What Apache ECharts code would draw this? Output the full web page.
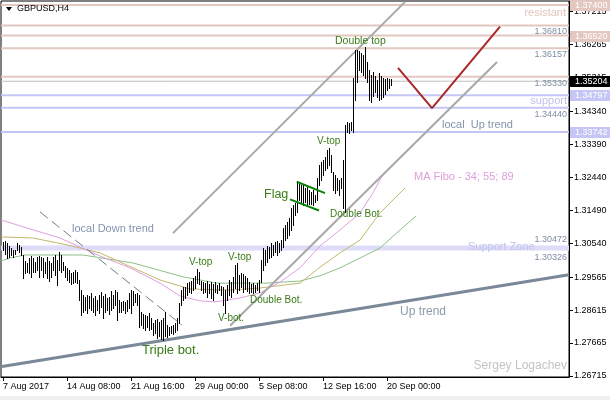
<!DOCTYPE html>
<html><head><meta charset="utf-8">
<script src="https://cdn.jsdelivr.net/npm/echarts@6/dist/echarts.min.js"></script>
<style>html,body{margin:0;padding:0;background:#fff}#c{width:610px;height:400px}</style>
</head><body><div id="c"></div>
<script>
// ---- data ----
const dateLabels = ['7 Aug 2017','14 Aug 08:00','21 Aug 16:00','29 Aug 00:00','5 Sep 08:00','12 Sep 16:00','20 Sep 00:00'];
const dateLabelBars = [0,32,64,96,128,160,192];
const priceTicks = [1.37215,1.36265,1.35315,1.34340,1.33390,1.32440,1.31490,1.30540,1.29565,1.28615,1.27665,1.26715];

const highs = [1.3057,1.3060,1.3055,1.3046,1.3040,1.3034,1.3034,1.3055,1.3049,1.3043,
1.3020,1.3003,1.2997,1.3011,1.3017,1.3011,1.3000,1.3014,1.3017,1.3014,
1.3011,1.3000,1.3014,1.3003,1.2997,1.3014,1.3020,1.3006,1.3029,1.3020,
1.3000,1.2988,1.2983,1.2977,1.2968,1.2971,1.2977,1.2971,1.2948,1.2919,
1.2905,1.2899,1.2905,1.2902,1.2911,1.2896,1.2902,1.2890,1.2905,1.2913,
1.2902,1.2908,1.2896,1.2899,1.2916,1.2905,1.2919,1.2913,1.2890,1.2885,
1.2888,1.2885,1.2890,1.2911,1.2919,1.2916,1.2908,1.2911,1.2905,1.2856,
1.2850,1.2847,1.2844,1.2853,1.2839,1.2824,1.2833,1.2836,1.2827,1.2833,
1.2839,1.2856,1.2818,1.2813,1.2816,1.2818,1.2824,1.2839,1.2882,1.2919,
1.2928,1.2928,1.2939,1.2942,1.2945,1.2954,1.2960,1.2980,1.2971,1.2945,
1.2942,1.2939,1.2945,1.2937,1.2942,1.2937,1.2942,1.2934,1.2939,1.2931,
1.2928,1.2919,1.2934,1.2948,1.2942,1.2957,1.2991,1.2997,1.2962,1.2968,
1.2965,1.2960,1.2954,1.2942,1.2937,1.2939,1.2934,1.2939,1.2948,1.3006,
1.3040,1.3034,1.3046,1.3043,1.3055,1.3049,1.3057,1.3060,1.3055,1.3063,
1.3098,1.3106,1.3115,1.3127,1.3155,1.3164,1.3170,1.3227,1.3225,1.3222,
1.3222,1.3213,1.3216,1.3207,1.3201,1.3207,1.3193,1.3242,1.3279,1.3288,
1.3294,1.3302,1.3322,1.3328,1.3308,1.3259,1.3250,1.3242,1.3236,1.3242,
1.3294,1.3394,1.3403,1.3400,1.3403,1.3530,1.3610,1.3610,1.3608,1.3602,
1.3596,1.3619,1.3576,1.3553,1.3538,1.3547,1.3536,1.3524,1.3544,1.3536,
1.3530,1.3527,1.3530,1.3527,1.3527];

const lows = [1.3034,1.3023,1.3011,1.3014,1.3020,1.3014,1.3023,1.3034,1.3029,1.3020,
1.2954,1.2968,1.2971,1.2968,1.2957,1.2971,1.2971,1.2977,1.2957,1.2977,
1.2957,1.2968,1.2954,1.2945,1.2957,1.2977,1.2962,1.2934,1.2977,1.2971,
1.2977,1.2957,1.2948,1.2942,1.2937,1.2939,1.2942,1.2939,1.2890,1.2847,
1.2856,1.2862,1.2853,1.2867,1.2862,1.2856,1.2847,1.2862,1.2853,1.2870,
1.2839,1.2856,1.2862,1.2850,1.2862,1.2867,1.2876,1.2833,1.2856,1.2856,
1.2862,1.2853,1.2859,1.2867,1.2853,1.2876,1.2885,1.2876,1.2813,1.2818,
1.2810,1.2804,1.2813,1.2804,1.2807,1.2790,1.2795,1.2781,1.2787,1.2778,
1.2775,1.2787,1.2784,1.2790,1.2795,1.2793,1.2798,1.2804,1.2824,1.2876,
1.2890,1.2896,1.2905,1.2913,1.2911,1.2919,1.2925,1.2939,1.2937,1.2919,
1.2911,1.2913,1.2899,1.2911,1.2896,1.2890,1.2913,1.2911,1.2919,1.2905,
1.2876,1.2853,1.2890,1.2905,1.2899,1.2913,1.2925,1.2911,1.2919,1.2928,
1.2913,1.2922,1.2916,1.2911,1.2913,1.2911,1.2913,1.2919,1.2913,1.2942,
1.2977,1.2991,1.3000,1.3011,1.3014,1.3020,1.3029,1.3020,1.3029,1.3034,
1.3043,1.3063,1.3069,1.3078,1.3092,1.3106,1.3135,1.3144,1.3178,1.3170,
1.3164,1.3173,1.3164,1.3167,1.3167,1.3164,1.3173,1.3178,1.3222,1.3236,
1.3250,1.3265,1.3271,1.3279,1.3259,1.3207,1.3199,1.3207,1.3193,1.3213,
1.3155,1.3144,1.3374,1.3371,1.3380,1.3374,1.3466,1.3518,1.3553,1.3547,
1.3538,1.3530,1.3518,1.3466,1.3461,1.3478,1.3489,1.3475,1.3466,1.3469,
1.3475,1.3484,1.3495,1.3501,1.3510];

// moving averages [bar index, price]
const ma34 = [[-1,1.3121],[13.5,1.3095],[28.5,1.3069],[48.5,1.3017],[63.5,1.2983],[78.5,1.2939],[88.5,1.2902],[98.5,1.2888],[106,1.2885],[118.5,1.2896],[128.5,1.2911],[138.5,1.2942],[148.5,1.2983],[158.5,1.3046],[168.5,1.3092],[178.5,1.3141],[185,1.3199],[190,1.3253],[194,1.3276]];
const ma55 = [[-1,1.3072],[15,1.3069],[32,1.3049],[48.5,1.3026],[65,1.2983],[78.5,1.2948],[93.5,1.2922],[113.5,1.2919],[128.5,1.2925],[148.5,1.2939],[158.5,1.2985],[168.5,1.3026],[178.5,1.3063],[188.5,1.3141],[201,1.3213]];
const ma89 = [[-1,1.3003],[3.5,1.3011],[11,1.3020],[40,1.3020],[65,1.2997],[90,1.2957],[107,1.2939],[132,1.2939],[148.5,1.2945],[158.5,1.2960],[168.5,1.2983],[178.5,1.3011],[188.5,1.3040],[198.5,1.3092],[206.5,1.3132]];

// drawn objects [bar index, price]
const upTrend = [[-0.5,1.2699],[283,1.2963]];
const channelUpper = [[85,1.3083],[201,1.3749]];
const localUpTrend = [[113.5,1.2816],[247,1.3576]];
const localDownTrend = [[18.5,1.3144],[89.5,1.2818]];
const flagUpper = [[146.85,1.3231],[161,1.3198]];
const flagLower = [[143.5,1.3180],[158,1.3148]];
const forecastV = [[197.5,1.3559],[214.5,1.3443],[248.5,1.3678]];

const resistLevels = [1.3740,1.3681,1.3652,1.36157,1.3533];
const currentPrice = 1.35204;
const supportLevels = [1.34797,1.3444,1.33742];
const supportZone = [1.30326,1.30472];
const levelTextsBelow = [1.3681,1.36157,1.3533,1.3444];
const resistBoxes = [1.3740,1.3652];
const supportBoxes = [1.34797,1.33742];

// ---- chart ----
const FONT = 'Liberation Sans';
const X0 = -1, X1 = 283;
const chart = echarts.init(document.getElementById('c'), null, {renderer:'canvas'});

function seg(data, color, width, type, z){
  return {type:'line', data, symbol:'none', silent:true, animation:false, z,
    lineStyle:{color, width, type: type||'solid'}};
}
const series = [];
// support zone
series.push({type:'custom', silent:true, animation:false, z:1,
  data:[[X0, supportZone[0], supportZone[1]]], encode:{x:0, y:[1,2]},
  renderItem:(p,api)=>{
    const cs = p.coordSys;
    const a = api.coord([X0, api.value(2)]), b = api.coord([X0, api.value(1)]);
    return {type:'rect', shape:{x:cs.x, y:a[1], width:cs.width, height:b[1]-a[1]}, style:{fill:'#dedcf8'}};
  }});
resistLevels.forEach(v=>series.push(seg([[X0,v],[X1,v]], '#e2c8c0', 2, null, 2)));
supportLevels.forEach(v=>series.push(seg([[X0,v],[X1,v]], '#c6c6f6', 2, null, 2)));
series.push(seg([[X0,currentPrice],[X1,currentPrice]], '#c0c0c0', 1, null, 2));
// MAs
series.push(seg(ma89, '#8fbf8a', 1, null, 3));
series.push(seg(ma55, '#c2b86a', 1, null, 3));
series.push(seg(ma34, '#e0a0e0', 1, null, 3));
// trend lines
series.push(seg(upTrend, '#7a8898', 3, null, 4));
series.push(seg(channelUpper, '#a8a8a8', 2, null, 4));
series.push(seg(localUpTrend, '#a8a8a8', 2, null, 4));
series.push(seg(localDownTrend, '#6f7f8f', 1, [10,5], 4));
series.push(seg(flagUpper, '#0a820a', 2, null, 6));
series.push(seg(flagLower, '#0a820a', 2, null, 6));
series.push(seg(forecastV, '#a8282a', 2, null, 6));
// price bars
series.push({type:'custom', silent:true, animation:false, z:5,
  data: highs.map((h,i)=>[i,h,lows[i]]), encode:{x:0, y:[1,2]},
  renderItem:(p,api)=>{
    const a = api.coord([api.value(0), api.value(1)]);
    const b = api.coord([api.value(0), api.value(2)]);
    const x = Math.round(a[0]) + 0.5;
    return {type:'line', shape:{x1:x, y1:Math.round(a[1]), x2:x, y2:Math.round(b[1])+1},
      style:{stroke:'#000', lineWidth:1}};
  }});

chart.setOption({
  backgroundColor:'#ffffff',
  animation:false,
  grid:{left:1, right:41, top:1, bottom:23, show:true, borderColor:'#000', borderWidth:1, backgroundColor:'#fff'},
  xAxis:{type:'value', min:X0, max:X1, position:'bottom',
    axisLine:{show:true, onZero:false, lineStyle:{color:'#000', width:1}},
    axisTick:{show:true, length:4, customValues:dateLabelBars, lineStyle:{color:'#000'}},
    axisLabel:{customValues:dateLabelBars, align:'left', margin:5, color:'#000', fontSize:9, fontFamily:FONT,
      formatter:v=>{const k=dateLabelBars.indexOf(Math.round(v)); return k>=0?dateLabels[k]:'';}},
    splitLine:{show:false}},
  yAxis:{type:'value', min:1.26686, max:1.37515, position:'right',
    axisLine:{show:true, onZero:false, lineStyle:{color:'#000', width:1}},
    axisTick:{show:true, length:4, customValues:priceTicks, lineStyle:{color:'#000'}},
    axisLabel:{customValues:priceTicks, margin:5, color:'#000', fontSize:9, fontFamily:FONT,
      formatter:v=>v.toFixed(5)},
    splitLine:{show:false}},
  series
});

// ---- annotations ----
const yOf = v => chart.convertToPixel({yAxisIndex:0}, v);
const g = [];
function txt(text, x, y, color, size, align, valign, z){
  g.push({type:'text', x, y, z: z||20, silent:true,
    style:{text, fill:color, fontSize:size, fontFamily:FONT, align:align||'left', verticalAlign:valign||'middle'}});
}
function box(v, bg){
  const y = yOf(v);
  g.push({type:'rect', z:30, shape:{x:570, y:Math.round(y)-5, width:40, height:11}, style:{fill:bg}});
  txt(v.toFixed(5), 575, Math.round(y)+0.5, '#fff', 9, 'left', 'middle', 31);
}
// level value texts
levelTextsBelow.forEach(v=>txt(v.toFixed(5), 567, yOf(v)+2, '#7f8ea3', 9, 'right', 'top'));
txt(supportZone[1].toFixed(5), 567, yOf(supportZone[1])-2, '#7f8ea3', 9, 'right', 'bottom');
txt(supportZone[0].toFixed(5), 567, yOf(supportZone[0])+2, '#7f8ea3', 9, 'right', 'top');
// axis boxes
resistBoxes.forEach(v=>box(v, '#e2c8c0'));
supportBoxes.forEach(v=>box(v, '#c6c6f6'));
box(currentPrice, '#000000');
// named texts
txt('resistant', 566, 13, '#e2c4bc', 11, 'right');
txt('support', 567, 101, '#c0c0f0', 11, 'right');
txt('local  Up trend', 442, 125, '#8593a8', 11, 'left');
txt('MA Fibo - 34; 55; 89', 414, 177, '#dd9edd', 11, 'left');
txt('Support Zone', 468, 247, '#c2c2ee', 11, 'left');
txt('Up trend', 400, 312, '#8e9aab', 12, 'left');
txt('Sergey Logachev', 567, 366, '#c4c4c4', 12, 'right');
txt('local Down trend', 72, 229, '#8593b0', 11, 'left');
const PAT = '#3a7a18';
txt('Double top', 335, 41, PAT, 10.5, 'left');
txt('V-top', 317, 141, PAT, 10, 'left');
txt('Flag', 264, 195, PAT, 12.5, 'left');
txt('Double Bot.', 330, 214, PAT, 10, 'left');
txt('V-top', 189, 262, PAT, 10, 'left');
txt('V-top', 228, 257, PAT, 10, 'left');
txt('Double Bot.', 250, 300, PAT, 10, 'left');
txt('V-bot.', 218, 318, PAT, 10, 'left');
txt('Triple bot.', 142, 350, PAT, 13, 'left');
// title
g.push({type:'polygon', z:20, shape:{points:[[6,7],[12,7],[9,11]]}, style:{fill:'#000'}});
txt('GBPUSD,H4', 17, 9, '#000', 9, 'left');
// bottom strip
g.push({type:'rect', z:0, shape:{x:0, y:396, width:610, height:4}, style:{fill:'#f0f0f0'}});
chart.setOption({graphic:g});
</script></body></html>
